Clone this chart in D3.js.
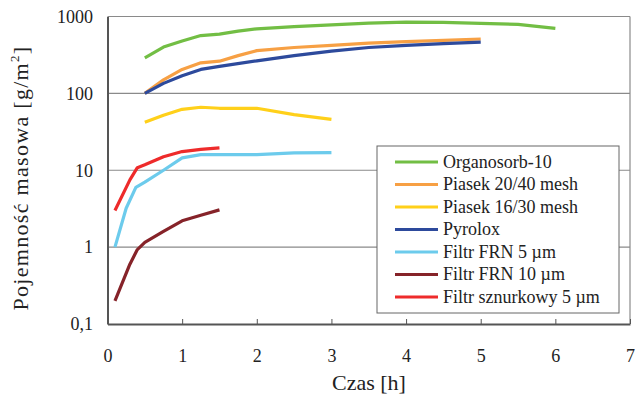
<!DOCTYPE html>
<meta charset="utf-8">
<script src="https://d3js.org/d3.v7.min.js"></script>
<style>
  body { margin: 0; background: #fff; }
</style>
<div id="chart"></div>
<script>
// series: [time h, capacity g/m2]
const organosorb = [[0.5,290],[0.75,400],[1,480],[1.25,565],[1.5,590],[1.75,645],[2,690],[2.5,740],[3,780],[3.5,820],[4,845],[4.5,840],[5,815],[5.5,790],[6,700]];
const piasek2040 = [[0.5,100],[0.75,150],[1,205],[1.25,250],[1.5,262],[1.75,310],[2,360],[2.5,395],[3,420],[3.5,450],[4,470],[4.5,490],[5,510]];
const piasek1630 = [[0.5,42],[0.75,52],[1,62],[1.25,66],[1.5,64],[2,64],[2.5,53],[3,46]];
const pyrolox = [[0.5,100],[0.75,135],[1,170],[1.25,205],[1.5,225],[2,265],[2.5,310],[3,355],[3.5,395],[4,420],[4.5,445],[5,465]];
const frn5 = [[0.1,1],[0.25,3.2],[0.38,6],[0.5,7],[0.75,10],[1,14.5],[1.25,16],[1.5,16],[2,16],[2.5,16.8],[3,17]];
const frn10 = [[0.1,0.2],[0.3,0.6],[0.4,0.93],[0.5,1.15],[0.75,1.6],[1,2.2],[1.25,2.6],[1.5,3.05]];
const sznurkowy = [[0.1,3],[0.3,7.5],[0.4,10.8],[0.5,11.8],[0.75,15],[1,17.5],[1.25,18.7],[1.5,19.5]];

const seriesNames = ["Organosorb-10", "Piasek 20/40 mesh", "Piasek 16/30 mesh", "Pyrolox", "Filtr FRN 5 \u00b5m", "Filtr FRN 10 \u00b5m", "Filtr sznurkowy 5 \u00b5m"];
const seriesData = [organosorb, piasek2040, piasek1630, pyrolox, frn5, frn10, sznurkowy];
const colors = ["#72be44", "#f7a044", "#ffd01a", "#2d4a9c", "#6ccbec", "#862329", "#ee2b2b"];

const xTicks = [0, 1, 2, 3, 4, 5, 6, 7];
const yTicks = [0.1, 1, 10, 100, 1000];
const yTickLabels = ["0,1", "1", "10", "100", "1000"];

const W = 635, H = 394;
const plot = {left: 107.5, right: 630, top: 16.5, bottom: 324};
const serif = "'Liberation Serif'";

const svg = d3.select("#chart").append("svg")
  .attr("width", W).attr("height", H);

const x = d3.scaleLinear().domain([0, 7]).range([plot.left, plot.right]);
const y = d3.scaleLog().domain([0.1, 1000]).range([plot.bottom, plot.top]);

// gridlines
svg.append("g").selectAll("line")
  .data(yTicks.slice(1))
  .join("line")
    .attr("x1", plot.left).attr("x2", plot.right)
    .attr("y1", d => y(d)).attr("y2", d => y(d))
    .attr("stroke", "#8a8a8a").attr("stroke-width", 1.2);

// right border
svg.append("line")
  .attr("x1", plot.right).attr("x2", plot.right)
  .attr("y1", plot.top).attr("y2", plot.bottom)
  .attr("stroke", "#8a8a8a").attr("stroke-width", 1.2);

// axes
const xAxis = svg.append("g")
  .attr("transform", `translate(0,${plot.bottom})`)
  .call(d3.axisBottom(x).tickValues(xTicks).tickSizeInner(-5).tickSizeOuter(0).tickPadding(25).tickFormat(d3.format("d")));
const yAxis = svg.append("g")
  .attr("transform", `translate(${plot.left},0)`)
  .call(d3.axisLeft(y).tickValues(yTicks).tickSize(0).tickPadding(14.5).tickFormat((d, i) => yTickLabels[i]));
[xAxis, yAxis].forEach(a => {
  a.attr("font-family", null).attr("font-size", null);
  a.select(".domain").attr("stroke", "#555").attr("stroke-width", 2);
  a.selectAll(".tick line").attr("stroke", "#555").attr("stroke-width", 1);
  a.selectAll("text").style("font-family", serif).style("font-size", "18px").attr("fill", "#222");
});

// lines
const line = d3.line().x(d => x(d[0])).y(d => y(d[1]));
svg.append("g").selectAll("path")
  .data(seriesData)
  .join("path")
    .attr("fill", "none")
    .attr("stroke", (d, i) => colors[i])
    .attr("stroke-width", 3.2)
    .attr("stroke-linejoin", "round")
    .attr("d", line);

// axis titles
svg.append("text")
  .attr("x", 369).attr("y", 390)
  .attr("text-anchor", "middle")
  .style("font-family", serif).style("font-size", "22px").attr("fill", "#222")
  .text("Czas [h]");
const yt = svg.append("text")
  .attr("transform", "translate(28,178) rotate(-90)")
  .attr("text-anchor", "middle")
  .style("font-family", serif).style("font-size", "22px").style("letter-spacing", "1.3px").attr("fill", "#222");
yt.append("tspan").text("Pojemno\u015b\u0107 masowa [g/m");
yt.append("tspan").style("font-size", "13px").attr("dy", -9).text("2");
yt.append("tspan").attr("dy", 9).text("]");

// legend
const legend = svg.append("g");
legend.append("rect")
  .attr("x", 377).attr("y", 146).attr("width", 242).attr("height", 167)
  .attr("fill", "#fff").attr("stroke", "#666").attr("stroke-width", 1);
const item = legend.selectAll("g.item")
  .data(seriesNames)
  .join("g").attr("class", "item")
  .attr("transform", (d, i) => `translate(0,${162 + i * 22.5})`);
item.append("line")
  .attr("x1", 395).attr("x2", 438)
  .attr("stroke", (d, i) => colors[i]).attr("stroke-width", 3.2);
item.append("text")
  .attr("x", 443).attr("dy", "0.33em")
  .style("font-family", serif).style("font-size", "18px").attr("fill", "#222")
  .text(d => d);
</script>
